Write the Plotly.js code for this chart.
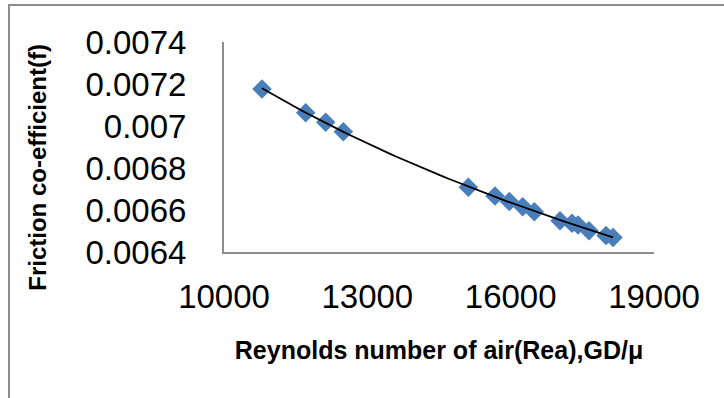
<!DOCTYPE html>
<html>
<head>
<meta charset="utf-8">
<script src="https://cdn.plot.ly/plotly-3.0.1.min.js"></script>
<style>
  html, body { margin: 0; padding: 0; background: #fff; }
  #chart { width: 724px; height: 398px; position: absolute; left: 0; top: 0; }
  #frame { position: absolute; left: 8px; top: 4px; width: 760px; height: 420px;
           border-left: 2px solid #8c8c8c; border-top: 2px solid #8c8c8c; pointer-events: none; }
</style>
</head>
<body>
<div id="chart"></div>
<div id="frame"></div>
<script>
// Reynolds number of air (Rea)
const reynolds = [10795, 11710, 12128, 12497, 15114, 15672, 15972, 16252, 16495,
                  17033, 17284, 17409, 17640, 17995, 18142];
// Friction co-efficient (f)
const friction = [0.007176, 0.007063, 0.007018, 0.006973, 0.006708, 0.006667, 0.006640,
                  0.006616, 0.006592, 0.006549, 0.006537, 0.006529, 0.006501, 0.006479, 0.006469];
const xTicks = [10000, 13000, 16000, 19000];
const yTicks = [0.0064, 0.0066, 0.0068, 0.007, 0.0072, 0.0074];
const yTickText = ['0.0064', '0.0066', '0.0068', '0.007', '0.0072', '0.0074'];

// Power trendline (least squares in log-log space), as a spreadsheet trendline does
const lx = reynolds.map(Math.log), ly = friction.map(Math.log);
const n = lx.length;
const mx = lx.reduce((a, b) => a + b, 0) / n, my = ly.reduce((a, b) => a + b, 0) / n;
let sxy = 0, sxx = 0;
for (let i = 0; i < n; i++) { sxy += (lx[i] - mx) * (ly[i] - my); sxx += (lx[i] - mx) ** 2; }
const b = sxy / sxx, a = Math.exp(my - b * mx);
const xmin = Math.min(...reynolds), xmax = Math.max(...reynolds);
const trendX = [], trendY = [];
for (let k = 0; k <= 60; k++) {
  const x = xmin + (xmax - xmin) * k / 60;
  trendX.push(x); trendY.push(a * Math.pow(x, b));
}

const data = [
  { x: reynolds, y: friction, type: 'scatter', mode: 'markers',
    marker: { symbol: 'diamond', size: 15, color: '#4a7ebb', line: { width: 0 } },
    showlegend: false, hoverinfo: 'skip' },
  { x: trendX, y: trendY, type: 'scatter', mode: 'lines',
    line: { color: '#000000', width: 1.8 }, showlegend: false, hoverinfo: 'skip' }
];

const layout = {
  width: 724, height: 398,
  margin: { l: 224, r: 70, t: 42, b: 146 },
  paper_bgcolor: '#ffffff', plot_bgcolor: '#ffffff',
  font: { family: 'Liberation Sans, Arial, sans-serif', color: '#000' },
  xaxis: {
    range: [10000, 19000], tickvals: xTicks, ticktext: xTicks.map(String),
    showgrid: false, zeroline: false, showline: true, linecolor: '#8c8c8c', linewidth: 2,
    ticks: '', tickfont: { size: 33, family: 'Liberation Sans, Arial, sans-serif' },
    ticklabelstandoff: 14,
    title: { text: '<b>Reynolds number of air(Rea),GD/μ</b>', font: { size: 25 }, standoff: 28 }
  },
  yaxis: {
    range: [0.0064, 0.0074], tickvals: yTicks, ticktext: yTickText,
    showgrid: false, zeroline: false, showline: true, linecolor: '#8c8c8c', linewidth: 2,
    ticks: '', tickfont: { size: 33, family: 'Liberation Sans, Arial, sans-serif' },
    ticklabelstandoff: 29
  },
  annotations: [{
    text: '<b>Friction co-efficient(f)</b>', textangle: -90,
    xref: 'paper', yref: 'paper', x: -0.433, y: 0.405,
    xanchor: 'center', yanchor: 'middle', showarrow: false,
    font: { size: 24, color: '#000' }
  }]
};

Plotly.newPlot('chart', data, layout, { staticPlot: true, displayModeBar: false });
</script>
</body>
</html>
